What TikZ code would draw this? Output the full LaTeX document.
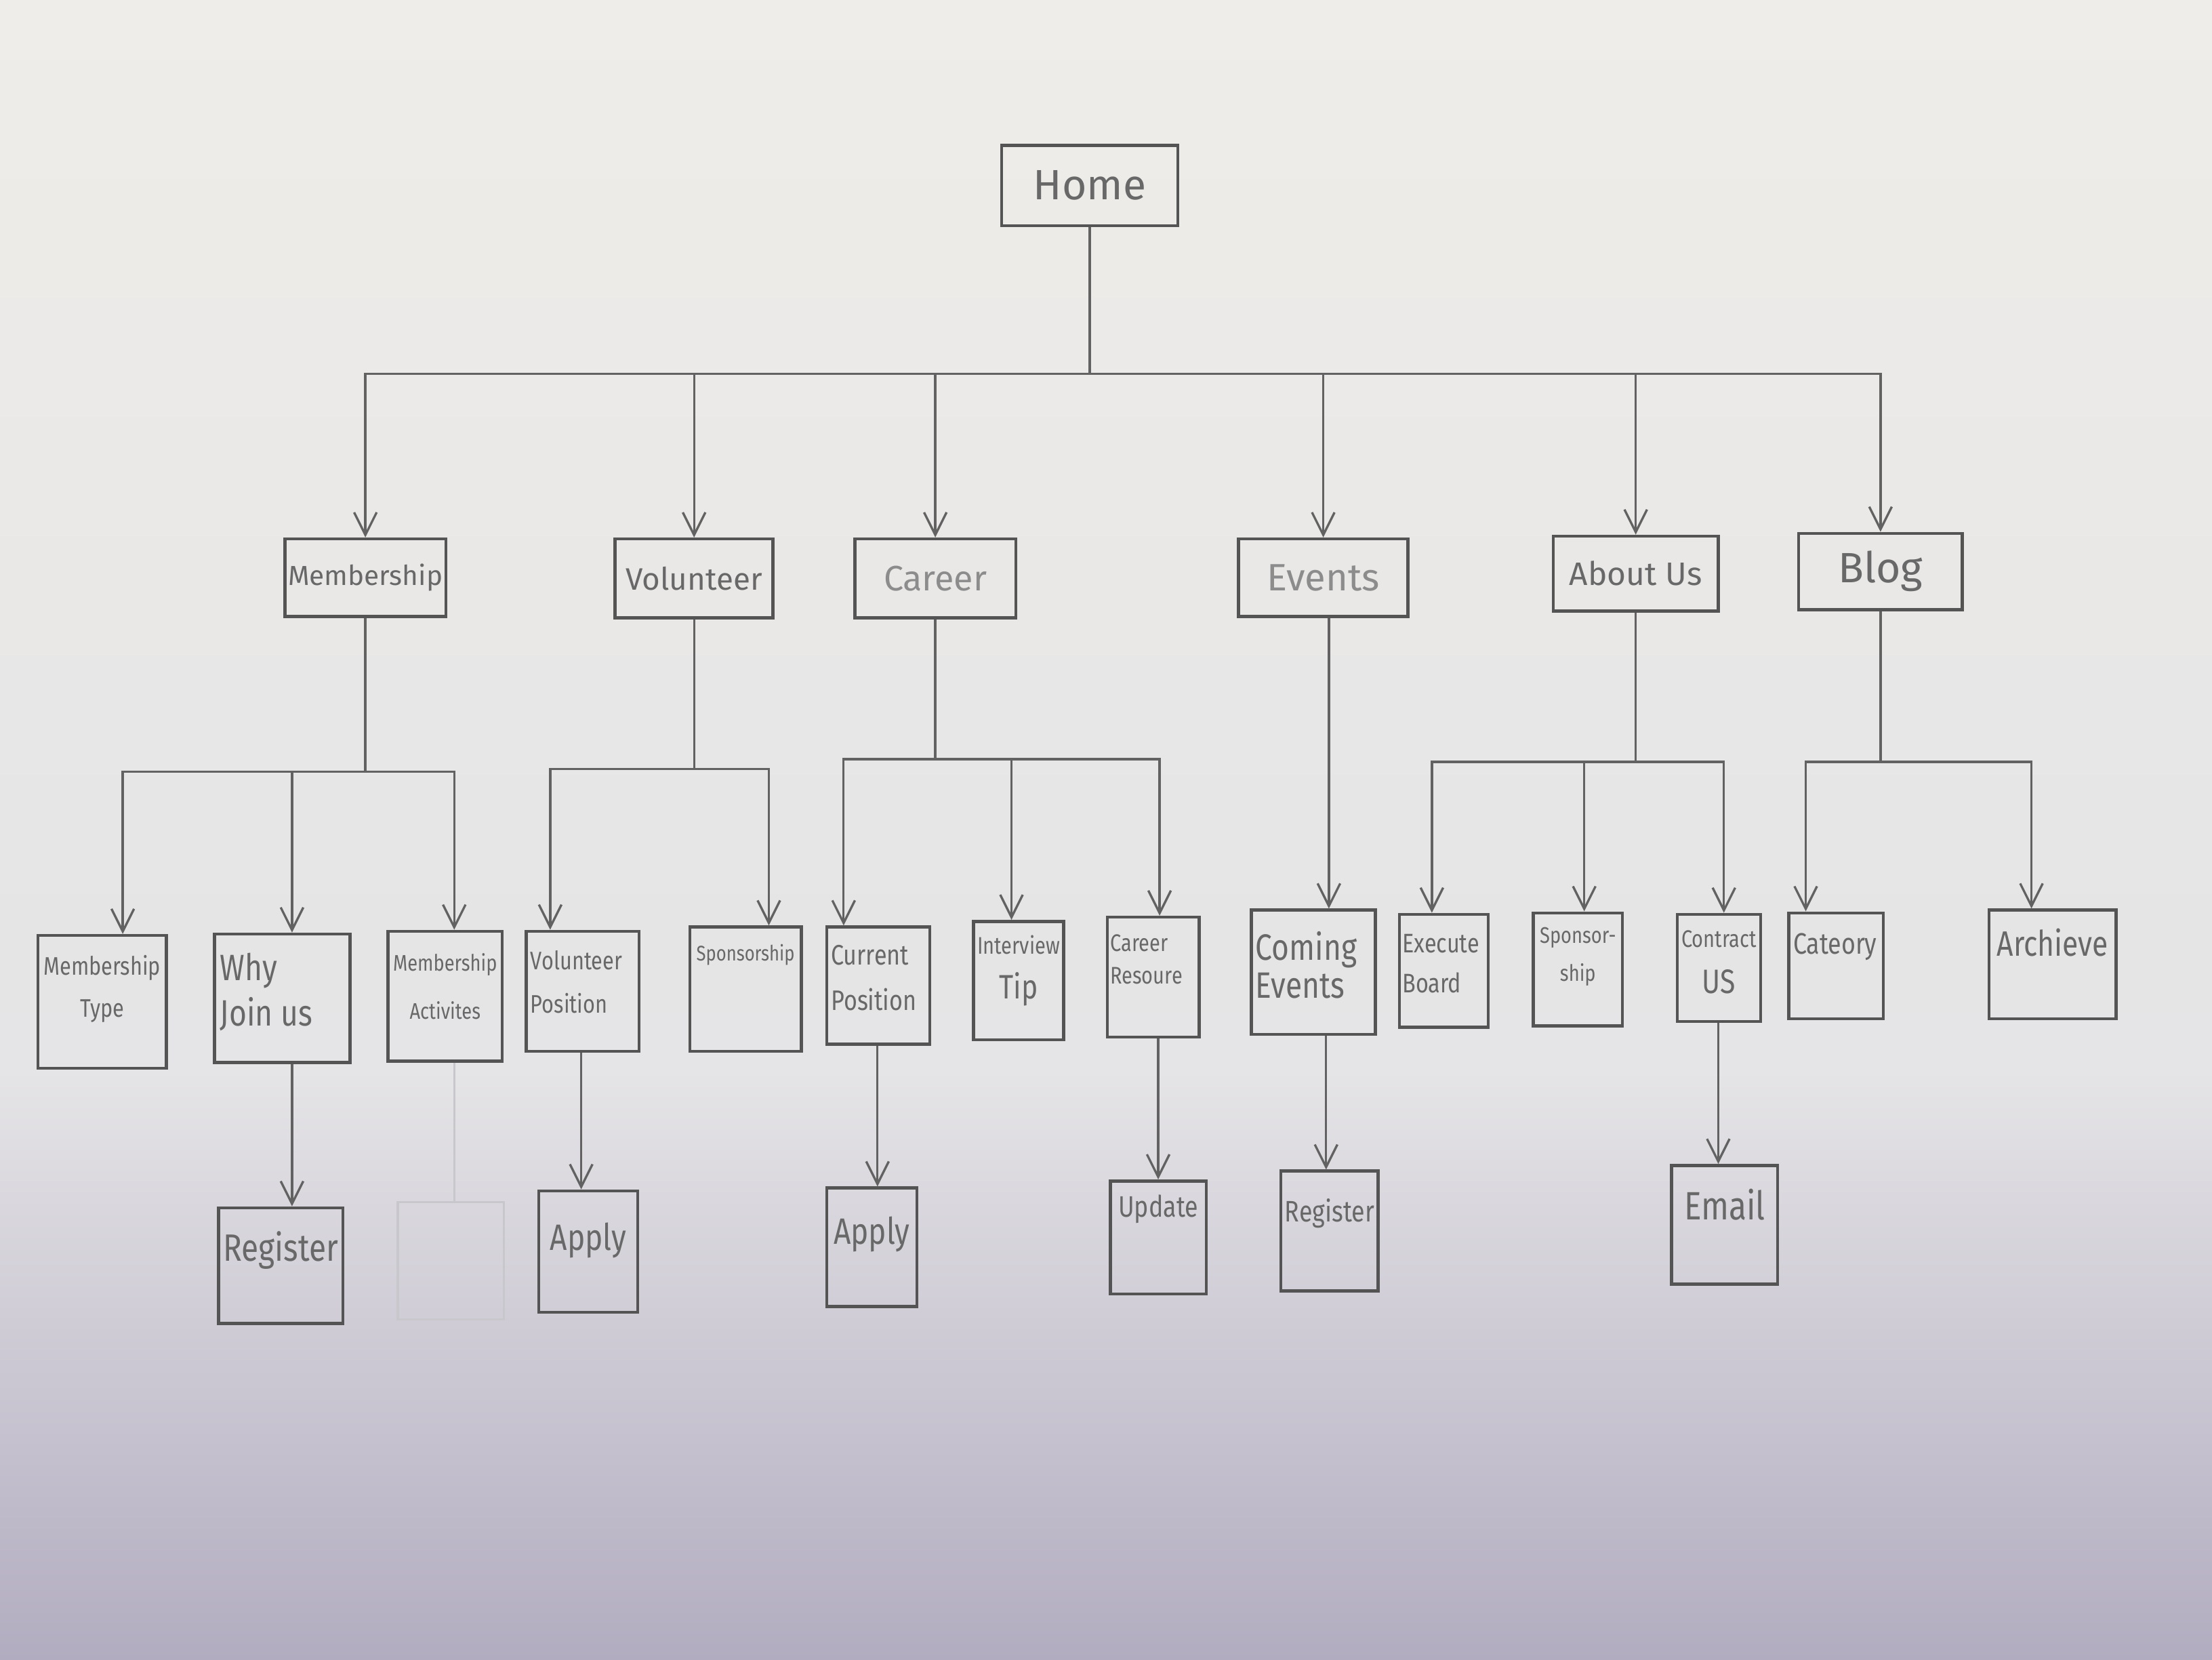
\documentclass[tikz,border=0pt]{standalone}
\usepackage{fontspec}
\setmainfont{Fira Sans}
\newfontfamily\hand{Fira Sans}[FakeStretch=0.82]
\usetikzlibrary{arrows.meta,calc}
\definecolor{paperTop}{RGB}{238,237,233}
\definecolor{paperMid}{RGB}{229,228,230}
\definecolor{paperBot}{RGB}{178,172,192}
\definecolor{pencil}{RGB}{84,84,84}
\definecolor{pencilline}{RGB}{98,98,98}
\definecolor{penciltext}{RGB}{104,104,104}
\definecolor{lighttext}{RGB}{140,140,140}
\definecolor{faint}{RGB}{200,199,203}
\newcommand\fs[2]{\fontsize{#1}{#2}\selectfont}
\begin{document}
\begin{tikzpicture}[x=1pt,y=-1pt,
  box/.style={draw=pencil,line width=2.2pt,inner sep=0pt,text=penciltext},
  ghostbox/.style={draw=faint,line width=1.5pt,inner sep=0pt},
  lbl/.style={inner sep=0pt,text=penciltext,align=center},
  lbll/.style={inner sep=0pt,text=penciltext,align=left,anchor=west},
  conn/.style={draw=pencilline,line width=1.6pt},
  arr/.style={conn,-{Straight Barb[length=16pt,width=16pt]}},
  ghostline/.style={draw=faint,line width=1.4pt}]
\shade[top color=paperTop,bottom color=paperMid] (0,0) rectangle (1568,760);
\shade[top color=paperMid,bottom color=paperBot] (0,759) rectangle (1568,1176);
\useasboundingbox (0,0) rectangle (1568,1176);

% root
\node[box,minimum width=125pt,minimum height=57pt,font=\fs{30}{34}] (home) at (772.5,131.5) {Home};

% level 1
\node[box,minimum width=114pt,minimum height=55pt,font=\fs{19.5}{24}] (mem) at (259,409.5) {Membership};
\node[box,minimum width=112pt,minimum height=56pt,font=\fs{22}{24}] (vol) at (492,410) {Volunteer};
\node[box,minimum width=114pt,minimum height=56pt,font=\fs{25}{24},text=lighttext] (car) at (663,410) {Career};
\node[box,minimum width=120pt,minimum height=55pt,font=\fs{27}{24},text=lighttext] (evt) at (938,409.5) {Events};
\node[box,minimum width=117pt,minimum height=53pt,font=\fs{23}{24}] (abt) at (1159.5,406.5) {About Us};
\node[box,minimum width=116pt,minimum height=54pt,font=\fs{30}{24}] (blog) at (1333,405) {Blog};

% level 2 boxes
\node[box,minimum width=91pt,minimum height=94pt] (mt) at (72.5,710) {};
\node[box,minimum width=96pt,minimum height=91pt] (wj) at (200,707.5) {};
\node[box,minimum width=81pt,minimum height=92pt] (ma) at (315.5,706) {};
\node[box,minimum width=80pt,minimum height=85pt] (vp) at (413,702.5) {};
\node[box,minimum width=79pt,minimum height=88pt] (sp) at (528.5,701) {};
\node[box,minimum width=73pt,minimum height=83pt] (cp) at (622.5,698.5) {};
\node[box,minimum width=64pt,minimum height=84pt] (it) at (722,695) {};
\node[box,minimum width=65pt,minimum height=85pt] (cr) at (817.5,692.5) {};
\node[box,minimum width=88pt,minimum height=88pt] (ce) at (931,689) {};
\node[box,minimum width=63pt,minimum height=80pt] (eb) at (1023.5,688) {};
\node[box,minimum width=63pt,minimum height=80pt] (ss) at (1118.5,687) {};
\node[box,minimum width=59pt,minimum height=76pt] (cu) at (1218.5,686) {};
\node[box,minimum width=67pt,minimum height=75pt] (ca) at (1301.5,684.5) {};
\node[box,minimum width=90pt,minimum height=77pt] (ar) at (1455,683.5) {};

% level 2 labels
\node[lbl,font=\hand\fs{18}{30}] (tmt) at ($(mt.north)+(0,39)$) {Membership\\Type};
\node[lbll,font=\hand\fs{26}{32}] (twj) at ($(wj.north west)+(5,42)$) {Why\\Join us};
\node[lbl,font=\hand\fs{16}{34}] (tma) at ($(ma.north)+(0,40)$) {Membership\\Activites};
\node[lbll,font=\hand\fs{18}{31}] (tvp) at ($(vp.north west)+(4,37)$) {Volunteer\\Position};
\node[lbl,font=\hand\fs{15}{20}] (tsp) at ($(sp.north)+(0,21)$) {Sponsorship};
\node[lbll,font=\hand\fs{20}{32}] (tcp) at ($(cp.north west)+(4,37)$) {Current\\Position};
\node[lbl,font=\hand\fs{17}{32}] (tit) at ($(it.north)+(0,36)$) {Interview\\{\fs{24}{32}Tip}};
\node[lbll,font=\hand\fs{17}{23}] (tcr) at ($(cr.north west)+(3,31)$) {Career\\Resoure};
\node[lbll,font=\hand\fs{26}{27}] (tce) at ($(ce.north west)+(4,40)$) {Coming\\Events};
\node[lbll,font=\hand\fs{19}{28}] (teb) at ($(eb.north west)+(3,36)$) {Execute\\Board};
\node[lbl,font=\hand\fs{16}{27}] (tss) at ($(ss.north)+(0,32)$) {Sponsor-\\ship};
\node[lbl,font=\hand\fs{17}{33}] (tcu) at ($(cu.north)+(0,35)$) {Contract\\{\fs{24}{33}US}};
\node[lbll,font=\hand\fs{21}{24}] (tca) at ($(ca.north west)+(4,25)$) {Cateory};
\node[lbl,font=\hand\fs{25}{28}] (tar) at ($(ar.north)+(0,24)$) {Archieve};

% level 3 boxes
\node[box,minimum width=88pt,minimum height=82pt] (rg1) at (199,897) {};
\node[ghostbox,minimum width=75pt,minimum height=83pt] (gh) at (319.5,893.5) {};
\node[box,minimum width=70pt,minimum height=86pt] (ap1) at (417,887) {};
\node[box,minimum width=64pt,minimum height=84pt] (ap2) at (618,884) {};
\node[box,minimum width=68pt,minimum height=80pt] (up) at (821,877) {};
\node[box,minimum width=69pt,minimum height=85pt] (rg2) at (942.5,872.5) {};
\node[box,minimum width=75pt,minimum height=84pt] (em) at (1222.5,868) {};

% level 3 labels
\node[lbl,font=\hand\fs{27}{30}] (trg1) at ($(rg1.north)+(0,31)$) {Register};
\node[lbl,font=\hand\fs{26}{30}] (tap1) at ($(ap1.north)+(0,36)$) {Apply};
\node[lbl,font=\hand\fs{26}{30}] (tap2) at ($(ap2.north)+(0,34)$) {Apply};
\node[lbl,font=\hand\fs{21}{24}] (tup) at ($(up.north)+(0,21)$) {Update};
\node[lbl,font=\hand\fs{21}{24}] (trg2) at ($(rg2.north)+(0,31)$) {Register};
\node[lbl,font=\hand\fs{28}{30}] (tem) at ($(em.north)+(0,29)$) {Email};

% connectors: root to level 1
\draw[arr] (home.south) -- (home.south |- 0,265) -| (mem.north);
\draw[arr] (home.south) -- (home.south |- 0,265) -| (vol.north);
\draw[arr] (home.south) -- (home.south |- 0,265) -| (car.north);
\draw[arr] (home.south) -- (home.south |- 0,265) -| (evt.north);
\draw[arr] (home.south) -- (home.south |- 0,265) -| (abt.north);
\draw[arr] (home.south) -- (home.south |- 0,265) -| (blog.north);

% Membership children
\draw[arr] (mem.south) -- (mem.south |- 0,547) -| (87,0 |- mt.north);
\draw[arr] (mem.south) -- (mem.south |- 0,547) -| (207,0 |- wj.north);
\draw[arr] (mem.south) -- (mem.south |- 0,547) -| (322,0 |- ma.north);
% Volunteer children
\draw[arr] (vol.south) -- (vol.south |- 0,545) -| (390,0 |- vp.north);
\draw[arr] (vol.south) -- (vol.south |- 0,545) -| (545,0 |- sp.north);
% Career children
\draw[arr] (car.south) -- (car.south |- 0,538) -| (598,0 |- cp.north);
\draw[arr] (car.south) -- (car.south |- 0,538) -| (717,0 |- it.north);
\draw[arr] (car.south) -- (car.south |- 0,538) -| (822,0 |- cr.north);
% Events child
\draw[arr] (942,0 |- evt.south) -- (942,0 |- ce.north);
% About Us children
\draw[arr] (abt.south) -- (abt.south |- 0,540) -| (1015,0 |- eb.north);
\draw[arr] (abt.south) -- (abt.south |- 0,540) -| (1123,0 |- ss.north);
\draw[arr] (abt.south) -- (abt.south |- 0,540) -| (1222,0 |- cu.north);
% Blog children
\draw[arr] (blog.south) -- (blog.south |- 0,540) -| (1280,0 |- ca.north);
\draw[arr] (blog.south) -- (blog.south |- 0,540) -| (1440,0 |- ar.north);

% level 2 to level 3
\draw[arr] (207,0 |- wj.south) -- (207,0 |- rg1.north);
\draw[ghostline] (322,0 |- ma.south) -- (322,0 |- gh.north);
\draw[arr] (412,0 |- vp.south) -- (412,0 |- ap1.north);
\draw[arr] (622,0 |- cp.south) -- (622,0 |- ap2.north);
\draw[arr] (821,0 |- cr.south) -- (821,0 |- up.north);
\draw[arr] (940,0 |- ce.south) -- (940,0 |- rg2.north);
\draw[arr] (1218,0 |- cu.south) -- (1218,0 |- em.north);
\end{tikzpicture}
\end{document}
